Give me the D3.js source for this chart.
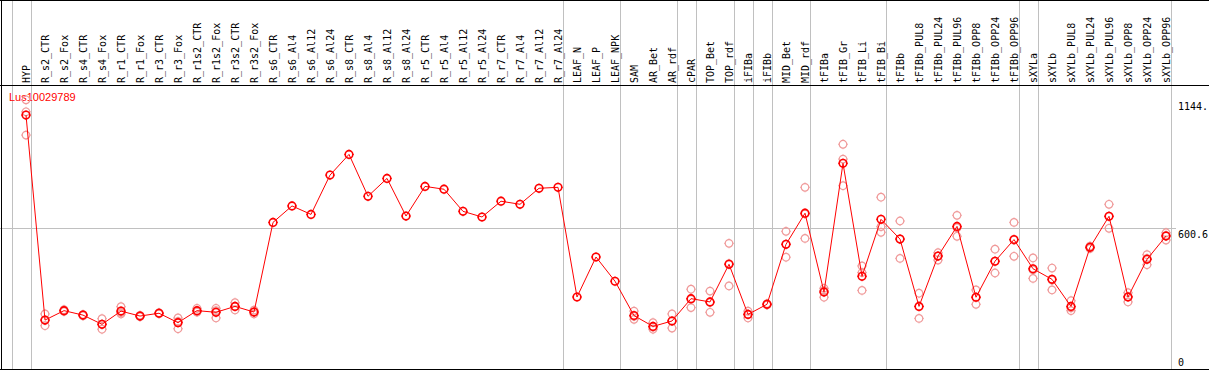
<!DOCTYPE html>
<html>
<head>
<meta charset="utf-8">
<script src="https://cdn.jsdelivr.net/npm/d3@7"></script>
<style>
  body { margin: 0; background: #fff; }
  svg { display: block; }
  .lab { font-family: "DejaVu Sans Mono", monospace; font-size: 10px; fill: #000; }
</style>
</head>
<body>
<svg id="chart" width="1209" height="370"></svg>
<script>
// sample names, one column each
const samples = ["HYP",
  "R_s2_CTR","R_s2_Fox","R_s4_CTR","R_s4_Fox","R_r1_CTR","R_r1_Fox","R_r3_CTR","R_r3_Fox",
  "R_r1s2_CTR","R_r1s2_Fox","R_r3s2_CTR","R_r3s2_Fox",
  "R_s6_CTR","R_s6_Al4","R_s6_Al12","R_s6_Al24","R_s8_CTR","R_s8_Al4","R_s8_Al12","R_s8_Al24",
  "R_r5_CTR","R_r5_Al4","R_r5_Al12","R_r5_Al24","R_r7_CTR","R_r7_Al4","R_r7_Al12","R_r7_Al24",
  "LEAF_N","LEAF_P","LEAF_NPK","SAM","AR_Bet","AR_rdf","cPAR","TOP_Bet","TOP_rdf",
  "iFIBa","iFIBb","MID_Bet","MID_rdf","tFIBa","tFIB_Gr","tFIB_Li","tFIB_Bi",
  "tFIBb","tFIBb_PUL8","tFIBb_PUL24","tFIBb_PUL96","tFIBb_OPP8","tFIBb_OPP24","tFIBb_OPP96",
  "sXYLa","sXYLb","sXYLb_PUL8","sXYLb_PUL24","sXYLb_PUL96","sXYLb_OPP8","sXYLb_OPP24","sXYLb_OPP96"];

// mean expression per sample
const means = [1079, 208, 248, 229, 190, 246, 225, 237, 197, 248, 241, 266, 242,
  623, 693, 657, 824, 912, 734, 810, 650, 776, 764, 670, 646, 713, 700, 768, 772,
  306, 476, 373, 227, 181, 204, 299, 285, 445, 232, 275, 530, 662, 327, 874, 394, 636,
  552, 266, 480, 606, 305, 458, 550, 426, 381, 266, 517, 649, 306, 466, 565];

// replicate values (empty where none shown)
const replicates = [[1144, 1093, 994], [234, 207, 184], [252, 246, 245], [231, 226, 230],
  [214, 190, 169], [265, 240, 234], [228, 222, 225], [239, 235], [217, 202, 171],
  [258, 244, 242], [258, 248, 217], [282, 266, 251], [250, 234, 242],
  [], [], [], [], [], [], [], [], [], [], [], [], [], [], [], [], [], [], [],
  [246, 224, 211], [197, 178, 169], [234, 204, 174], [339, 296, 261], [331, 283, 241],
  [534, 448, 353], [246, 233, 217], [278, 272], [585, 530, 475], [772, 659, 555],
  [343, 333, 305], [955, 892, 779], [438, 410, 334], [730, 605, 581],
  [629, 552, 470], [322, 266, 215], [494, 480, 463], [653, 600, 564], [336, 305, 275],
  [509, 458, 408], [623, 548, 479], [472, 421, 385], [429, 378, 336], [290, 260, 248],
  [522, 517, 512], [700, 649, 598], [324, 308, 285], [486, 470, 443], [579, 568, 548]];

// first sample of each tissue group (separator drawn before it)
const groupStarts = ["HYP","R_s2_CTR","LEAF_N","SAM","cPAR","TOP_Bet","iFIBa","iFIBb",
  "MID_Bet","tFIBa","tFIBb","sXYLa","sXYLb"];

const yTickVals = [1144, 600.6, 0];
const yTickText = ["1144.", "600.6", "0"];
const geneName = "Lus10029789";

const W = 1209, H = 370, headerY = 85;
const svg = d3.select("#chart");

const x = d3.scalePoint().domain(samples).range([26, 1166]);
const step = x.step();
const y = d3.scaleLinear().domain([0, 1144]).range([369, 99.8]);

// group separators
const sepX = groupStarts.map(s => x(s) - 14.5).concat([x(samples[samples.length - 1]) + step - 14.5]);
svg.selectAll("line.sep").data(sepX).enter().append("line")
  .attr("class", "sep")
  .attr("x1", d => Math.round(d) + 0.5).attr("x2", d => Math.round(d) + 0.5)
  .attr("y1", 0).attr("y2", H)
  .attr("stroke", "#c0c0c0");

// mid gridline
svg.append("line")
  .attr("x1", 0).attr("x2", 1176)
  .attr("y1", Math.round(y(600.6)) + 0.5).attr("y2", Math.round(y(600.6)) + 0.5)
  .attr("stroke", "#c0c0c0");

// frame + header rule
svg.append("line").attr("x1", 0).attr("x2", W).attr("y1", 0.5).attr("y2", 0.5).attr("stroke", "#000");
svg.append("line").attr("x1", 1.5).attr("x2", 1.5).attr("y1", 0).attr("y2", H).attr("stroke", "#000");
svg.append("line").attr("x1", 0).attr("x2", W).attr("y1", 369.5).attr("y2", 369.5).attr("stroke", "#000");
svg.append("line").attr("x1", 0).attr("x2", W).attr("y1", headerY + 0.5).attr("y2", headerY + 0.5).attr("stroke", "#000");

// rotated sample labels
svg.selectAll("text.col").data(samples).enter().append("text")
  .attr("class", "lab col")
  .attr("transform", d => `translate(${x(d) + 3.5},${headerY - 2}) rotate(-90)`)
  .text(d => d);

// y labels on the right
svg.selectAll("text.ytick").data(yTickVals).enter().append("text")
  .attr("class", "lab ytick")
  .attr("x", 1178)
  .attr("y", d => Math.min(y(d) + 10.5, 366))
  .text((d, i) => yTickText[i]);

// gene name
svg.append("text")
  .attr("x", 9).attr("y", 101)
  .attr("fill", "#ff0000")
  .style("font-family", "Liberation Sans, Arial, sans-serif")
  .style("font-size", "11px")
  .text(geneName);

function marker(g, color, sw) {
  g.append("circle").attr("r", 3.8).attr("fill", "none").attr("stroke", color).attr("stroke-width", sw);
  const t = [[0, -3.8, 0, -5], [0, 3.8, 0, 5], [-3.8, 0, -5, 0], [3.8, 0, 5, 0]];
  t.forEach(a => g.append("line").attr("x1", a[0]).attr("y1", a[1]).attr("x2", a[2]).attr("y2", a[3])
    .attr("stroke", color).attr("stroke-width", 0.8));
}

// replicate markers
const repPts = [];
replicates.forEach((r, i) => r.forEach(v => repPts.push({ s: samples[i], v: v })));
svg.selectAll("g.rep").data(repPts).enter().append("g")
  .attr("class", "rep")
  .attr("transform", d => `translate(${x(d.s)},${y(d.v)})`)
  .each(function () { marker(d3.select(this), "#f09a9a", 1.2); });

// mean line
const line = d3.line().x((d, i) => x(samples[i])).y(d => y(d));
svg.append("path").datum(means)
  .attr("d", line)
  .attr("fill", "none")
  .attr("stroke", "#ff0000")
  .attr("stroke-width", 1);

svg.selectAll("g.mean").data(means).enter().append("g")
  .attr("class", "mean")
  .attr("transform", (d, i) => `translate(${x(samples[i])},${y(d)})`)
  .each(function () { marker(d3.select(this), "#ff0000", 1.6); });
</script>
</body>
</html>
